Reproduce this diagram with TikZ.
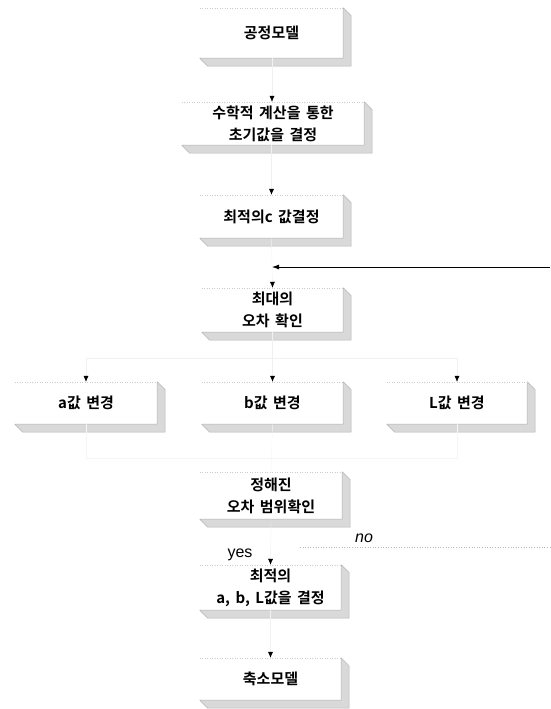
\documentclass[tikz,border=0pt]{standalone}
\usepackage{fontspec}
\newfontfamily\kr[WordSpace=1.6,BoldFont={Noto Sans CJK KR Bold}]{Noto Sans CJK KR}
\newfontfamily\lat{Liberation Sans}
\usetikzlibrary{arrows.meta,calc}
\newcommand\drawbevel[1]{%
  \filldraw[bevelfill] (#1.north east) -- ($(#1.north east)+(8,8)$) -- ($(#1.south east)+(8,8)$) -- ($(#1.south west)+(8,8)$) -- (#1.south west) -- (#1.south east) -- cycle;
  \draw[topedge] (#1.north west) -- (#1.north east);}
\begin{document}
\begin{tikzpicture}[x=1pt,y=-1pt,
  face/.style={inner sep=0pt, align=center, font=\kr\bfseries\fontsize{15}{22}\selectfont},
  bevelfill/.style={fill=gray!30, draw=gray!60, line width=0.5pt, line join=round},
  topedge/.style={draw=gray!40, dotted, line width=0.5pt},
  conn/.style={draw=gray!12, line width=0.4pt, -{Latex[length=6pt,width=5pt,color=black]}},
  faint/.style={draw=gray!8, line width=0.4pt},
  feedback/.style={draw=black, line width=0.8pt, -{Latex[length=7pt,width=5pt]}},
  noline/.style={draw=gray!55, dotted, line width=0.6pt},
  lbl/.style={font=\lat\fontsize{16}{18}\selectfont, inner sep=0pt}]
\useasboundingbox (0,0) rectangle (550,709);

% boxes
\node[face, minimum width=143pt, minimum height=50pt] (b1) at (271.5,33) {공정모델};
\node[face, minimum width=182pt, minimum height=43pt] (b2) at (273,123.5) {수학적 계산을 통한\\초기값을 결정};
\node[face, minimum width=143pt, minimum height=43pt] (b3) at (271.5,216.5) {최적의c 값결정};
\node[face, minimum width=141pt, minimum height=44pt] (b4) at (272.5,310) {최대의\\오차 확인};
\node[face, minimum width=142pt, minimum height=42pt] (ba) at (86,403) {a값 변경};
\node[face, minimum width=141pt, minimum height=42pt] (bb) at (272.5,403) {b값 변경};
\node[face, minimum width=140pt, minimum height=42pt] (bL) at (457,403) {L값 변경};
\node[face, minimum width=142pt, minimum height=47pt] (b5) at (271,495.5) {정해진\\오차 범위확인};
\node[face, minimum width=141pt, minimum height=45pt] (b6) at (270.5,587.5) {최적의\\a, b, L값을 결정};
\node[face, minimum width=141pt, minimum height=42pt] (b7) at (270.5,679) {축소모델};

\foreach \n in {b1,b2,b3,b4,ba,bb,bL,b5,b6,b7} {\drawbevel{\n}}

% coordinates
\coordinate (split) at (272.5,358);
\coordinate (merge) at (272,458);
\coordinate (fbend) at (550,267);
\coordinate (fbjoin) at (272,267);
\coordinate (nojoin) at (272,547);
\coordinate (noend) at (550,547);

% connectors
\draw[conn] ([xshift=0.5pt]b1.south) -- ([xshift=0.5pt]b1.south |- b2.north);
\draw[conn] (b2.south -| b3.north) -- (b3.north);
\draw[conn] (b3.south) -- (b4.north);
\draw[conn] (b4.south) -- (bb.north);
\draw[conn] (split) -| (ba.north);
\draw[conn] (split) -| (bL.north);
\draw[faint] (ba.south) |- (merge);
\draw[faint] (bL.south) |- (merge);
\draw[faint] (bb.south) -- (b5.north);
\draw[conn] (b5.south) -- (b6.north);
\draw[conn] (b6.south) -- (b7.north);
\draw[noline, shorten <=28pt] (nojoin) -- (noend);
\draw[feedback] (fbend) -- (fbjoin);

% labels
\node[lbl, font=\lat\itshape\fontsize{16}{18}\selectfont] (lno) at (364,538) {no};
\node[lbl] (lyes) at (240,555) {yes};
\end{tikzpicture}
\end{document}
